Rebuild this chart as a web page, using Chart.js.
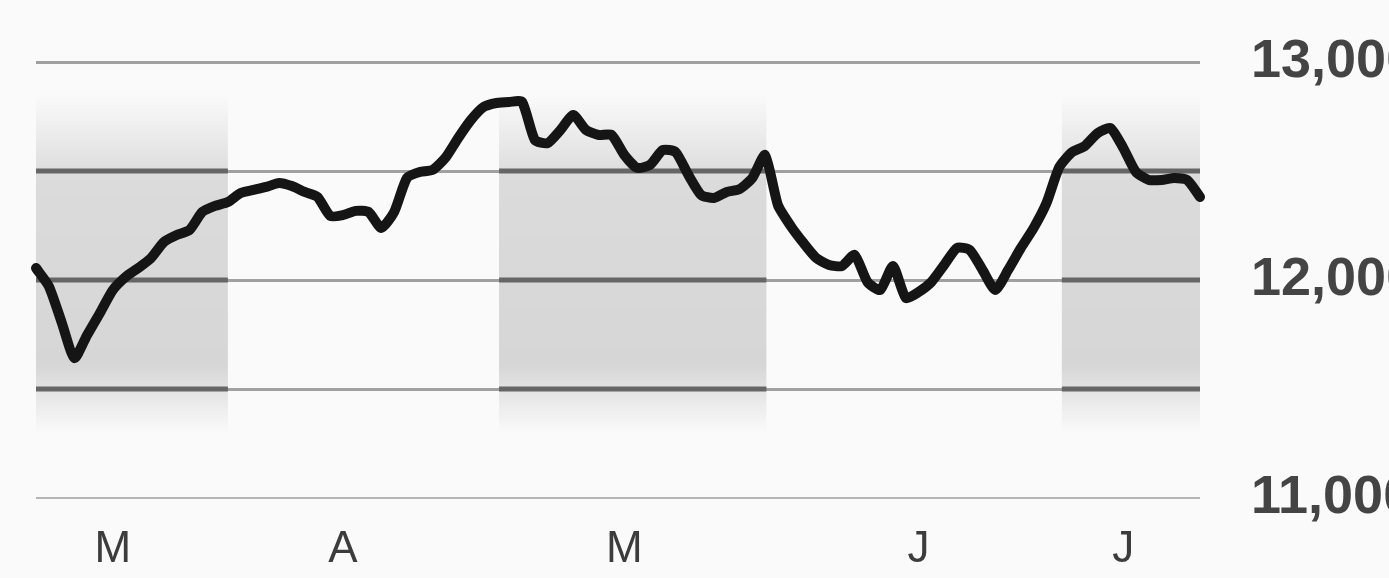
<!DOCTYPE html>
<html>
<head>
<meta charset="utf-8">
<script src="https://cdn.jsdelivr.net/npm/chart.js@4.4.1/dist/chart.umd.min.js"></script>
<style>
    html, body { margin: 0; padding: 0; background: #fafafa; }
    #wrap { width: 1389px; height: 578px; }
</style>
</head>
<body>
<div id="wrap"><canvas id="indexChart" width="1389" height="578"></canvas></div>
<script>
// daily closing level, March to early July
const closes = [
    12055, 11972, 11807, 11642, 11748, 11849, 11954, 12014, 12055, 12101,
    12174, 12206, 12229, 12312, 12340, 12358, 12399, 12413, 12427, 12445,
    12431, 12404, 12381, 12294, 12298, 12317, 12312, 12239, 12312, 12468,
    12495, 12505, 12560, 12651, 12734, 12794, 12812, 12817, 12817, 12642,
    12628, 12688, 12757, 12688, 12665, 12665, 12573, 12514, 12528, 12596,
    12587, 12482, 12390, 12376, 12404, 12417, 12468, 12573, 12344, 12248,
    12170, 12101, 12069, 12064, 12115, 11991, 11954, 12064, 11917, 11945,
    11991, 12069, 12147, 12138, 12046, 11954, 12046, 12147, 12239, 12353,
    12518, 12587, 12615, 12674, 12697, 12606, 12495, 12459, 12459, 12468,
    12459, 12381
];
const tradingDays = closes.map((v, i) => String(i));

// month initials and the trading day they sit over
const monthLabels = ['M', 'A', 'M', 'J', 'J'];
const monthMidDay = [6, 24, 46, 69, 85];

// shaded months (Mar, May, Jul) as trading-day spans
const shadedMonths = [[-0.1, 15], [36.2, 57.1], [80.2, 91.2]];

const yTicks = [11000, 11500, 12000, 12500, 13000];
const yLabelled = [11000, 12000, 13000];
const shadedGridLevels = [11500, 12000, 12500];

const monthBands = {
    id: 'monthBands',
    beforeDatasetsDraw(chart) {
        const { ctx, chartArea, scales: { x, y } } = chart;
        ctx.save();
        ctx.beginPath();
        ctx.rect(chartArea.left, chartArea.top, chartArea.right - chartArea.left, chartArea.bottom - chartArea.top);
        ctx.clip();
        const top = y.getPixelForValue(12850);
        const bot = y.getPixelForValue(11300);
        const grad = ctx.createLinearGradient(0, top, 0, bot);
        grad.addColorStop(0, 'rgba(0,0,0,0)');
        grad.addColorStop(0.25, 'rgba(0,0,0,0.12)');
        grad.addColorStop(0.8, 'rgba(0,0,0,0.14)');
        grad.addColorStop(1, 'rgba(0,0,0,0)');
        shadedMonths.forEach(([a, b]) => {
            const x0 = x.getPixelForValue(a);
            const x1 = x.getPixelForValue(b);
            ctx.fillStyle = grad;
            ctx.fillRect(x0, top, x1 - x0, bot - top);
            ctx.strokeStyle = '#666';
            ctx.lineWidth = 5;
            shadedGridLevels.forEach(lv => {
                const py = y.getPixelForValue(lv);
                ctx.beginPath();
                ctx.moveTo(x0, py);
                ctx.lineTo(x1, py);
                ctx.stroke();
            });
        });
        ctx.restore();
    }
};

new Chart(document.getElementById('indexChart').getContext('2d'), {
    type: 'line',
    data: {
        labels: tradingDays,
        datasets: [{
            data: closes,
            borderColor: '#151515',
            borderWidth: 10,
            borderJoinStyle: 'round',
            borderCapStyle: 'round',
            tension: 0.2,
            pointRadius: 0,
            fill: false
        }]
    },
    options: {
        responsive: false,
        animation: false,
        layout: { padding: { left: 36, top: 62, right: 0, bottom: 0 } },
        plugins: {
            legend: { display: false },
            tooltip: { enabled: false }
        },
        scales: {
            x: {
                offset: false,
                grid: { display: false, drawTicks: false },
                border: { display: false },
                afterFit: s => { s.height = 80; },
                ticks: {
                    autoSkip: false,
                    maxRotation: 0,
                    padding: 25,
                    color: '#3c3c3c',
                    font: { family: 'Liberation Sans', size: 44 },
                    callback: function (val, idx) {
                        const k = monthMidDay.indexOf(idx);
                        return k >= 0 ? monthLabels[k] : '';
                    }
                }
            },
            y: {
                position: 'right',
                min: 11000,
                max: 13000,
                afterFit: s => { s.width = 189; },
                afterBuildTicks: s => { s.ticks = yTicks.map(v => ({ value: v })); },
                border: { display: false },
                grid: {
                    drawTicks: true,
                    tickLength: 51,
                    tickColor: 'rgba(0,0,0,0)',
                    color: c => c.tick.value === 11000 ? '#b5b5b5' : '#a0a0a0',
                    lineWidth: c => c.tick.value === 11000 ? 2 : 3
                },
                ticks: {
                    padding: 0,
                    color: '#444',
                    font: { family: 'Liberation Sans', weight: 'bold', size: 54 },
                    callback: v => yLabelled.includes(v) ? v.toLocaleString('en-US') : ''
                }
            }
        }
    },
    plugins: [monthBands]
});
</script>
</body>
</html>
